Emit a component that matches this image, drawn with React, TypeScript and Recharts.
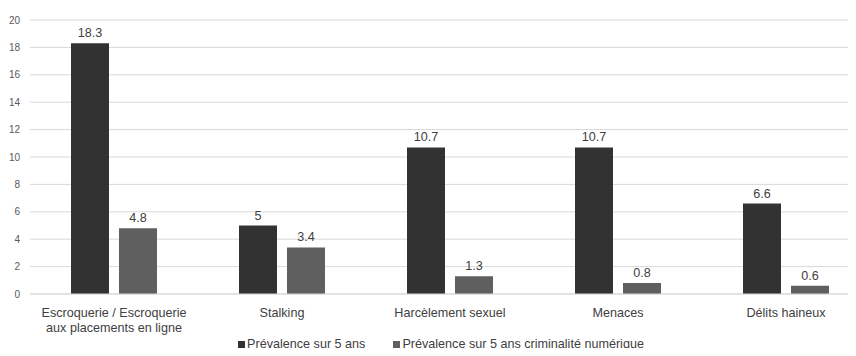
import { Bar, BarChart, CartesianGrid, LabelList, Legend, XAxis, YAxis } from "recharts"

const categories = [
  "Escroquerie / Escroquerie\naux placements en ligne",
  "Stalking",
  "Harcèlement sexuel",
  "Menaces",
  "Délits haineux",
]
const prevalence = [18.3, 5, 10.7, 10.7, 6.6]
const prevalenceNumerique = [4.8, 3.4, 1.3, 0.8, 0.6]
const yTicks = [0, 2, 4, 6, 8, 10, 12, 14, 16, 18, 20]

const SERIES = [
  { key: "prevalence", name: "Prévalence sur 5 ans", color: "#323232" },
  { key: "numerique", name: "Prévalence sur 5 ans criminalité numérique", color: "#5f5f5f" },
]

const data = categories.map((c, i) => ({
  category: c,
  prevalence: prevalence[i],
  numerique: prevalenceNumerique[i],
}))

const FONT = "'Liberation Sans', Arial, sans-serif"
const TEXT = "#404040"

function CategoryTick({ x, y, payload }: any) {
  const lines = String(payload.value).split("\n")
  return (
    <text x={x} y={y} textAnchor="middle" fill={TEXT} fontSize={12.6} fontFamily={FONT}>
      {lines.map((l, i) => (
        <tspan key={i} x={x} dy={15}>
          {l}
        </tspan>
      ))}
    </text>
  )
}

function LegendRow() {
  return (
    <div
      style={{
        display: "flex",
        justifyContent: "center",
        gap: 28,
        paddingLeft: 26,
        fontFamily: FONT,
        fontSize: 12.6,
        color: TEXT,
        lineHeight: "14px",
      }}
    >
      {SERIES.map((s) => (
        <span key={s.key} style={{ display: "flex", alignItems: "center", gap: 2 }}>
          <span style={{ width: 7, height: 7, background: s.color, display: "inline-block" }} />
          {s.name}
        </span>
      ))}
    </div>
  )
}

export default function App() {
  return (
    <div style={{ margin: -8, width: 856, height: 356, background: "#fff" }}>
      <BarChart
        width={856}
        height={356}
        data={data}
        margin={{ top: 20, right: 0, bottom: 0, left: 0 }}
        barSize={38}
        barGap={10}
      >
        <CartesianGrid vertical={false} stroke="#d9d9d9" />
        {/* category bands run slightly past the right edge */}
        <XAxis
          dataKey="category"
          axisLine={{ stroke: "#d9d9d9" }}
          tickLine={false}
          interval={0}
          height={44}
          padding={{ left: 0, right: -14 }}
          tick={<CategoryTick />}
        />
        <YAxis
          width={30}
          domain={[0, 20]}
          ticks={yTicks}
          axisLine={false}
          tickLine={false}
          tickSize={0}
          tickMargin={10}
          tick={{ fill: "#595959", fontSize: 10, fontFamily: FONT }}
        />
        <Legend
          verticalAlign="bottom"
          height={18}
          wrapperStyle={{ bottom: 1 }}
          content={<LegendRow />}
        />
        {SERIES.map((s) => (
          <Bar key={s.key} dataKey={s.key} name={s.name} fill={s.color} isAnimationActive={false}>
            <LabelList
              dataKey={s.key}
              position="top"
              offset={6}
              fill={TEXT}
              fontSize={12.6}
              fontFamily={FONT}
            />
          </Bar>
        ))}
      </BarChart>
    </div>
  )
}
